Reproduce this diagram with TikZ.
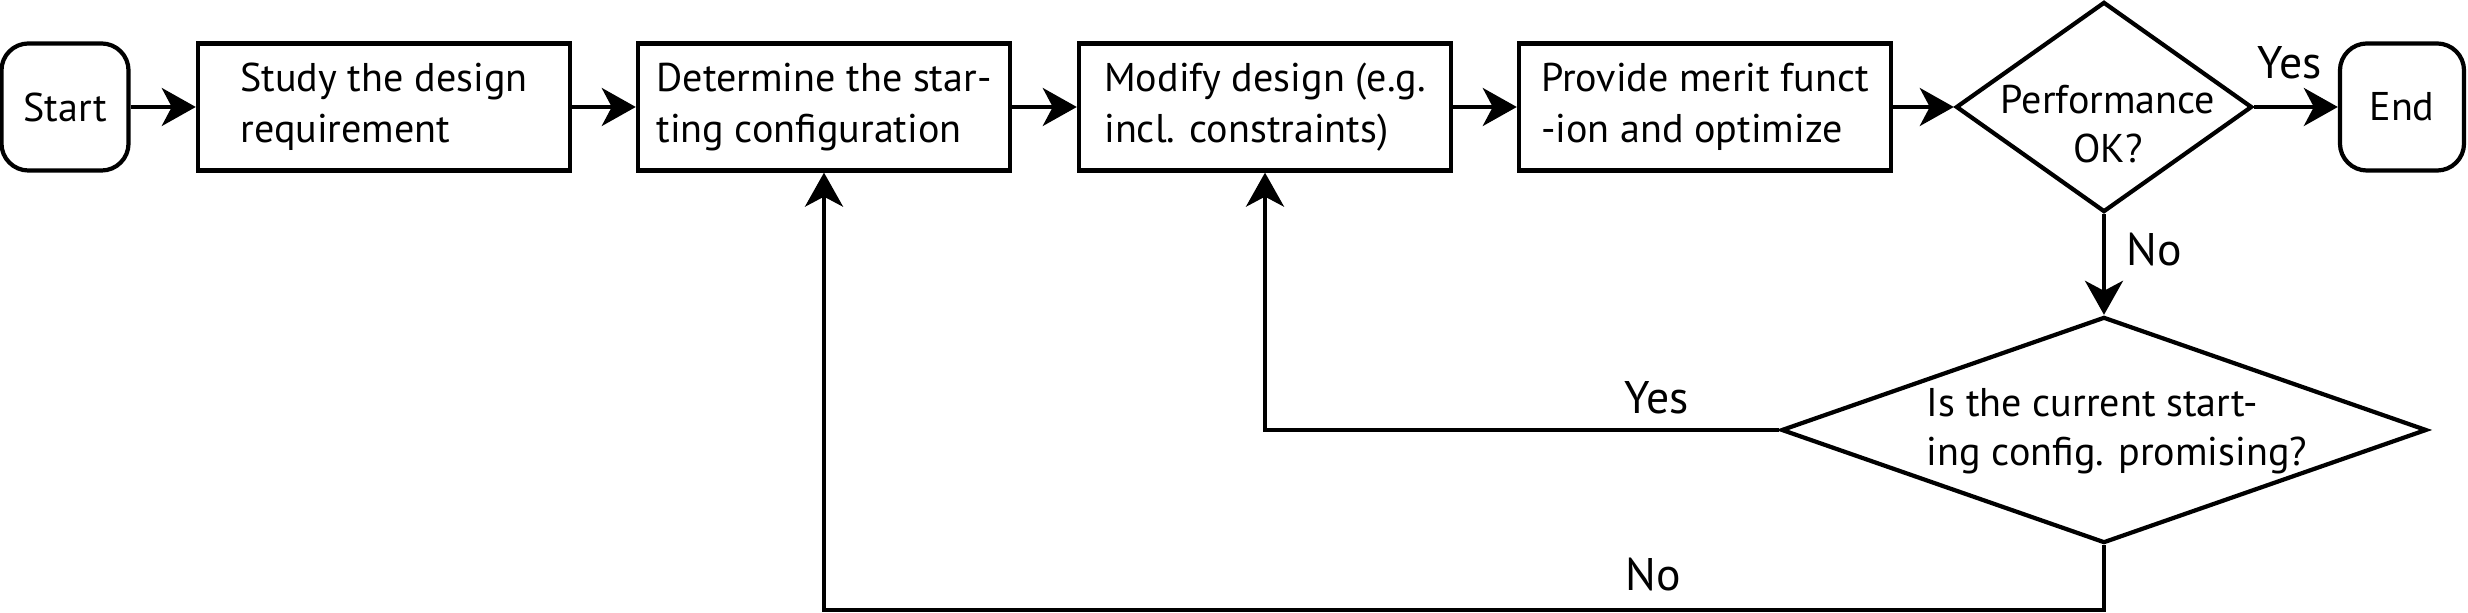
\documentclass[tikz,border=0pt]{standalone}
\usepackage{fontspec}
\setmainfont{PT Sans}
\usetikzlibrary{shapes.geometric,arrows.meta}
\begin{document}
\begin{tikzpicture}[x=0.01cm,y=-0.01cm,
  box/.style={draw,line width=1.2pt,minimum width=3.72cm,minimum height=1.27cm,align=left,inner sep=0pt,font=\fontsize{11.4}{14.5}\selectfont},
  term/.style={draw,line width=1.2pt,rounded corners=0.27cm,minimum height=1.27cm,font=\fontsize{11.4}{14.5}\selectfont},
  dia/.style={draw,diamond,line width=1.2pt,inner sep=0pt},
  txt/.style={font=\fontsize{11.4}{13.8}\selectfont},
  lbl/.style={font=\fontsize{13}{15}\selectfont},
  conn/.style={line width=1.1pt,-{Stealth[length=0.34cm,width=0.38cm,inset=0.1cm]}}]
\useasboundingbox (0,0) rectangle (2468,613);
\node[term,minimum width=1.27cm] (start) at (65,107) {Start};
\node[box] (study) at (384,107) {Study the design\\requirement};
\node[box] (det) at (824,107) {Determine the star-\\ting configuration};
\node[box] (mod) at (1265,107) {Modify design (e.g.\\incl. constraints)};
\node[box] (prov) at (1705,107) {Provide merit funct\\-ion and optimize};
\node[dia,minimum width=2.96cm,minimum height=2.1cm] (perf) at (2104,107) {};
\node[txt,align=center] (perft) at (2108,124) {Performance\\OK?};
\node[term,minimum width=1.24cm] (end) at (2402,107) {End};
\node[dia,minimum width=6.45cm,minimum height=2.26cm] (chk) at (2104,430) {};
\node[txt,align=left] (chkt) at (2117,431) {Is the current start-\\ing config. promising?};
\coordinate (nb) at (2104,610);
\draw[conn] (start) -- (study);
\draw[conn] (study) -- (det);
\draw[conn] (det) -- (mod);
\draw[conn] (mod) -- (prov);
\draw[conn] (prov.east) -- (perf.west);
\draw[conn] (perf.east) -- (end.west);
\draw[conn] (perf.south) -- (chk.north);
\draw[conn] (chk.west) -| (mod.south);
\draw[conn] (chk.south) -- (nb) -| (det.south);
\node[lbl] (yes1) at (2290,63) {Yes};
\node[lbl] (no1) at (2154,250) {No};
\node[lbl] (yes2) at (1657,398) {Yes};
\node[lbl] (no2) at (1653,575) {No};
\end{tikzpicture}
\end{document}
